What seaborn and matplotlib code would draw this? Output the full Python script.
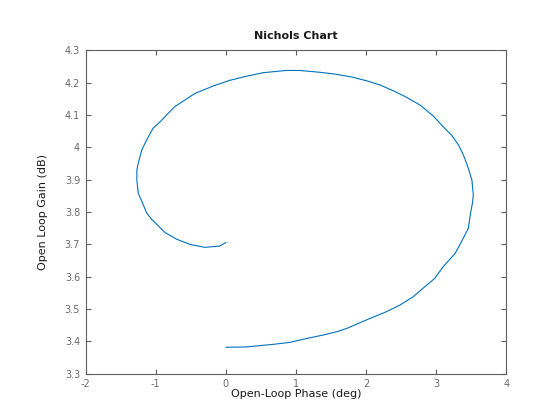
import matplotlib
matplotlib.use("Agg")
import matplotlib.pyplot as plt
import seaborn as sns
import pandas as pd

phase = [0.0, -0.09, -0.3, -0.51, -0.7, -0.87, -1.06, -1.13, -1.2, -1.25,
         -1.27, -1.27, -1.25, -1.2, -1.13, -1.04, -0.94, -0.73, -0.44, -0.18,
         0.05, 0.29, 0.53, 0.86, 1.05, 1.31, 1.55, 1.79, 2.01, 2.2,
         2.39, 2.56, 2.77, 2.96, 3.1, 3.22, 3.32, 3.39, 3.46, 3.51,
         3.53, 3.52, 3.49, 3.46, 3.36, 3.27, 3.1, 2.98, 2.81, 2.67,
         2.48, 2.29, 2.0, 1.72, 1.58, 1.39, 1.15, 0.91, 0.67, 0.29, 0.0]
gain = [3.706, 3.695, 3.691, 3.700, 3.716, 3.737, 3.778, 3.797, 3.834, 3.858,
        3.899, 3.930, 3.951, 3.992, 4.023, 4.059, 4.079, 4.126, 4.167, 4.190,
        4.207, 4.220, 4.231, 4.238, 4.238, 4.233, 4.227, 4.218, 4.206, 4.193,
        4.175, 4.157, 4.131, 4.097, 4.064, 4.038, 4.007, 3.976, 3.935, 3.899,
        3.853, 3.830, 3.796, 3.750, 3.708, 3.672, 3.631, 3.595, 3.564, 3.538,
        3.512, 3.492, 3.466, 3.440, 3.430, 3.420, 3.409, 3.397, 3.391, 3.383, 3.382]

xticks = [-2, -1, 0, 1, 2, 3, 4]
yticks = [3.3, 3.4, 3.5, 3.6, 3.7, 3.8, 3.9, 4.0, 4.1, 4.2, 4.3]
ytick_labels = ["3.3", "3.4", "3.5", "3.6", "3.7", "3.8", "3.9", "4", "4.1", "4.2", "4.3"]

sns.set_style("white")
plt.rcParams['font.family'] = ['DejaVu Sans']

df = pd.DataFrame({"phase": phase, "gain": gain})

fig = plt.figure(figsize=(5.6, 4.2), dpi=100)
ax = fig.add_axes([0.153, 0.110, 0.751, 0.770])
sns.lineplot(data=df, x="phase", y="gain", sort=False, estimator=None,
             color="#0072BD", linewidth=0.8, ax=ax)

ax.set_xlim(-2, 4)
ax.set_ylim(3.3, 4.3)
ax.set_xticks(xticks)
ax.set_xticklabels([str(t) for t in xticks])
ax.set_yticks(yticks)
ax.set_yticklabels(ytick_labels)

gray = "#5f5f5f"
for s in ax.spines.values():
    s.set_visible(True)
    s.set_color(gray)
    s.set_linewidth(0.8)
ax.tick_params(direction="in", length=3.5, width=0.8, colors=gray,
               labelcolor="#6a6a6a", labelsize=7, top=True, right=True,
               bottom=True, left=True, pad=4)

ax.set_xlabel("Open-Loop Phase (deg)", fontsize=8, color="#1a1a1a", labelpad=0)
ax.set_ylabel("Open Loop Gain (dB)", fontsize=8, color="#1a1a1a", labelpad=12)
ax.set_title("Nichols Chart", fontsize=8, fontweight="bold", color="#1a1a1a", pad=8)

fig.savefig("out.png", dpi=100)
